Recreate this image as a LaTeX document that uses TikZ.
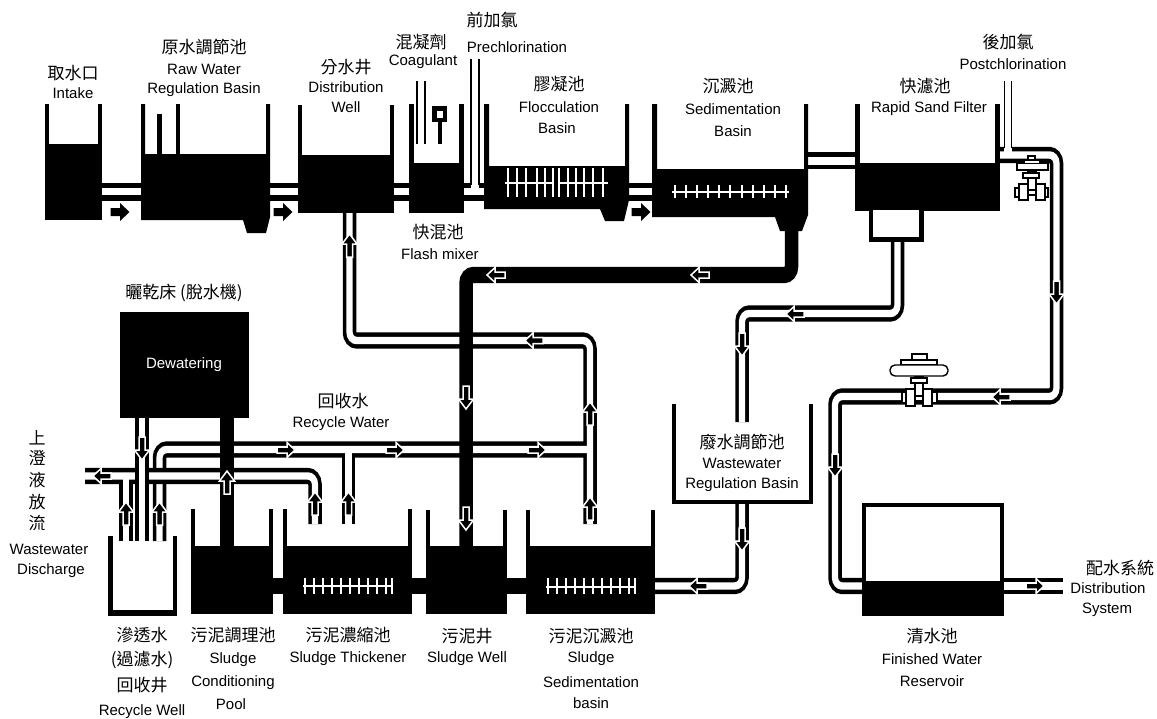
\documentclass[tikz,border=0pt]{standalone}
\usepackage{fontspec}
\setmainfont{Liberation Sans}
\newfontfamily\cjkf{Noto Sans CJK TC}
\newcounter{lbc}
\tikzset{
  en/.style={inner sep=0pt,font=\fontsize{15}{18}\selectfont},
  zh/.style={inner sep=0pt,font=\cjkf\fontsize{17}{20}\selectfont},
  valvepart/.style={fill=white,draw=black,line width=1.4pt},
  pipeblack/.style={draw=black,line width=13.5pt,rounded corners=7pt},
  pipewhite/.style={draw=white,line width=6.2pt,rounded corners=7pt},
  flowarrow/.style={fill=black,draw=white,line width=1.5pt,miter limit=3},
  bigarrow/.style={fill=black,draw=none},
  paddle/.style={draw=white,line width=1.6pt}
}
\newcommand{\enl}[3]{\stepcounter{lbc}\node[en] (t\arabic{lbc}) at (#1,#2) {#3};}
\newcommand{\zhl}[3]{\stepcounter{lbc}\node[zh] (t\arabic{lbc}) at (#1,#2) {#3};}
% tank: x1 x2 top water bottom wall
\newcommand{\tank}[6]{\fill[black] (#1,#3) rectangle (#2,#5);\fill[white] ({#1+#6},#3-1) rectangle ({#2-#6},#4);}
\newcommand{\hlink}[6]{\fill[black] (#1,#3) rectangle (#2,#6);\fill[white] (#1,#4) rectangle (#2,#5);}
% arrow along a horizontal run
\newcommand{\farrow}[3]{\begin{scope}[shift={(#1,#2)},rotate=#3]
  \path[flowarrow] (-9,-3) -- (1,-3) -- (1,-7.5) -- (9,0) -- (1,7.5) -- (1,3) -- (-9,3) -- cycle;
\end{scope}}
% arrow along a vertical run (the reference is stretched vertically)
\newcommand{\varrow}[3]{\begin{scope}[shift={(#1,#2)},rotate=#3]
  \path[flowarrow] (-12,-3) -- (1,-3) -- (1,-7.5) -- (11,0) -- (1,7.5) -- (1,3) -- (-12,3) -- cycle;
\end{scope}}
\newcommand{\barrow}[2]{\begin{scope}[shift={(#1,#2)}]
  \path[bigarrow] (-9.5,-4) -- (0,-4) -- (0,-9) -- (9.5,0) -- (0,9) -- (0,4) -- (-9.5,4) -- cycle;
\end{scope}}
\begin{document}
\begin{tikzpicture}[x=1pt,y=-1pt]
\useasboundingbox (0,0) rectangle (1157,718);
% ---- lower tanks, under the pipes that dip into them
\tank{191}{273}{509}{546}{614}{4}
\tank{283}{412}{509}{546}{614}{4}
\tank{426}{507}{510}{546}{614}{4}
\tank{526}{655}{510}{546}{614}{4}
\fill[black] (108,536) rectangle (177,616);
\fill[white] (112.5,535) rectangle (172.5,610);
\draw[paddle] (303,586) -- (393,586);
\foreach \p in {305,314,323,332,341,350,359,368,377,386,392}
  \draw[paddle] (\p,578) -- (\p,594);
\draw[paddle] (546,587) -- (636,587);
\foreach \p in {548,557,566,575,584,593,602,611,620,629,635}
  \draw[paddle] (\p,578) -- (\p,594);
% wastewater regulation basin
\fill[black] (672,404) rectangle (813,504);
\fill[white] (676,403) rectangle (809,500);
% ---- pipes with curved corners (canvas stretched vertically as in the reference)
\begin{scope}[transform canvas={yscale=1.2},x=1pt,y=-0.83333pt]
  % recycle network
  \path[pipeblack] (159.5,541) -- (159.5,449.5) -- (590,449.5);
  \path[pipeblack] (348.5,524) -- (348.5,449.5);
  \path[pipeblack] (590,524) -- (590,340.5) -- (349.5,340.5) -- (349.5,213);
  \path[pipewhite] (159.5,541) -- (159.5,449.5) -- (590,449.5);
  \path[pipewhite] (348.5,524) -- (348.5,449.5);
  \path[pipewhite] (590,524) -- (590,340.5) -- (349.5,340.5) -- (349.5,213);
  % discharge
  \path[pipeblack] (85,476) -- (315,476) -- (315,524);
  \path[pipeblack] (126,541) -- (126,476);
  \path[pipewhite] (85,476) -- (315,476) -- (315,524);
  \path[pipewhite] (126,541) -- (126,476);
  % filtrate back to well
  \path[pipeblack] (142,417) -- (142,541);
  \path[pipewhite] (142,417) -- (142,541);
  % sludge line
  \path[pipeblack] (791.5,225) -- (791.5,275) -- (466,275) -- (466,547);
  % filter backwash
  \path[pipeblack] (897.5,242) -- (897.5,313.5) -- (742,313.5) -- (742,422);
  \path[pipewhite] (897.5,242) -- (897.5,313.5) -- (742,313.5) -- (742,422);
  % wastewater basin to sludge sedimentation
  \path[pipeblack] (742,504) -- (742,586) -- (655,586);
  \path[pipewhite] (742,504) -- (742,586) -- (655,586);
  % clear water
  \path[pipeblack] (1000,155) -- (1056.5,155) -- (1056.5,396.5) -- (835,396.5) -- (835,586) -- (870,586);
  \path[pipewhite] (1000,155) -- (1056.5,155) -- (1056.5,396.5) -- (835,396.5) -- (835,586) -- (870,586);
\end{scope}
% conditioning feed
\fill[black] (220,417) rectangle (234,547);
% ---- straight links between tanks
\hlink{102}{141}{183}{188}{195}{201}
\hlink{270}{298}{183}{188}{195}{201}
\hlink{394}{409}{183}{188}{195}{201}
\hlink{464}{484}{183}{188}{195}{201}
\hlink{629}{652}{183}{188}{195}{201}
\hlink{808}{855}{152}{157}{165}{169}
\hlink{1004}{1063}{578}{582}{590}{594}
\fill[black] (273,578) rectangle (283,594);
\fill[black] (412,578) rectangle (426,594);
\fill[black] (507,578) rectangle (526,594);
% ---- upper tanks
\tank{45}{102}{104}{144}{220}{4}
\fill[black] (141,104) -- (145,104) -- (145,154) -- (266,154) -- (266,104) -- (270,104) -- (270,217) -- (266,233) -- (247,233) -- (243,220) -- (141,220) -- cycle;
\fill[black] (157,114) rectangle (162,155);
\fill[black] (176,104) rectangle (180,155);
\tank{298}{394}{105}{155}{213}{4}
\tank{409}{464}{104}{163}{213}{5}
\fill[black] (484,104) -- (489,104) -- (489,166) -- (625,166) -- (625,104) -- (629,104) -- (629,200) -- (624,221) -- (605,221) -- (600,209) -- (484,209) -- cycle;
\fill[black] (652,104) -- (657,104) -- (657,169) -- (804,169) -- (804,104) -- (808,104) -- (808,215) -- (802,231) -- (780,231) -- (775,217) -- (652,217) -- cycle;
\tank{855}{1000}{104}{163}{211}{5}
\fill[black] (869,211) rectangle (924,242);
\fill[white] (873,210) rectangle (919,237);
% ---- dosing pipes
\draw[black,line width=1.6pt] (417,81) -- (417,144);
\draw[black,line width=1.6pt] (425,81) -- (425,144);
\fill[black] (432,106) rectangle (447,122);
\fill[white] (436.5,111) rectangle (442.5,118);
\fill[black] (438,122) rectangle (442,144);
\fill[white] (471,59) rectangle (479,189);
\draw[black,line width=1.8pt] (471,59) -- (471,185);
\draw[black,line width=1.8pt] (479,59) -- (479,185);
\fill[white] (1004,81) rectangle (1012,153);
\draw[black,line width=1.6pt] (1004.5,81) -- (1004.5,148);
\draw[black,line width=1.6pt] (1011.5,81) -- (1011.5,148);
% ---- paddles
\draw[paddle] (505,183) -- (553,183);
\draw[paddle] (560,183) -- (608,183);
\foreach \p in {508,517,526,537,545,553,559,568,576,584,593,603}
  \draw[paddle] (\p,168) -- (\p,197);
\draw[paddle] (672,192) -- (789,192);
\foreach \p in {675,686,697,708,719,730,742,753,764,775,786}
  \draw[paddle] (\p,185) -- (\p,198);
% dewatering unit
\fill[black] (120,312) rectangle (249,418);
% finished water reservoir
\fill[black] (862,503) rectangle (1004,616);
\fill[white] (866,507) rectangle (1000,581);
% ---- valve on the filter outlet
\path[valvepart] (1028,156) rectangle (1035,160);
\path[valvepart] (1024,160) rectangle (1040,163.5);
\path[valvepart] (1017,163.5) rectangle (1048,170);
\fill[black] (1027,170) rectangle (1037,173);
\path[valvepart] (1023,173) rectangle (1039,178);
\path[valvepart] (1028,178) rectangle (1036,192);
\path[valvepart] (1015,188) rectangle (1019,197);
\path[valvepart] (1019,184) rectangle (1028,200);
\path[valvepart] (1036,184) rectangle (1045,200);
\path[valvepart] (1045,188) rectangle (1048,197);
\path[valvepart] (1028,190) rectangle (1036,195);
% ---- valve on the clear water main
\path[valvepart] (912,354) rectangle (927,360);
\path[valvepart] (901,360) rectangle (937,365);
\path[valvepart,rounded corners=5pt] (890,365) rectangle (948,376);
\fill[black] (914,376) rectangle (924,378);
\path[valvepart] (911,378) rectangle (927,383);
\path[valvepart] (915,383) rectangle (923,398);
\path[valvepart] (902,392) rectangle (906,403);
\path[valvepart] (906,389) rectangle (915,406);
\path[valvepart] (923,389) rectangle (932,406);
\path[valvepart] (932,392) rectangle (937,403);
\path[valvepart] (915,396) rectangle (923,401);
% ---- flow arrows
\barrow{120}{212}
\barrow{283}{212}
\barrow{641}{212}
\varrow{349.5}{245}{90}
\farrow{534}{340.5}{180}
\varrow{590}{413}{90}
\varrow{590}{508}{90}
\farrow{496}{275}{180}
\farrow{700}{275}{180}
\varrow{466}{398}{-90}
\varrow{466}{519}{-90}
\farrow{795}{314}{180}
\varrow{742}{345}{-90}
\varrow{742}{540}{-90}
\farrow{698}{586}{180}
\varrow{1056.5}{293}{-90}
\farrow{1001}{397}{180}
\varrow{835}{466}{-90}
\farrow{1035}{586}{0}
\varrow{142}{449}{-90}
\farrow{286}{450}{0}
\farrow{395}{450}{0}
\farrow{537}{450}{0}
\farrow{102}{476}{180}
\varrow{227}{482}{90}
\varrow{315}{503}{90}
\varrow{348.5}{503}{90}
\varrow{126}{513}{90}
\varrow{159.5}{513}{90}
% ---- labels
\node[en,text=white] (dw) at (184,365) {Dewatering};
\zhl{73}{73}{取水口}
\enl{73}{93}{Intake}
\zhl{204}{47}{原水調節池}
\enl{204}{69}{Raw Water}
\enl{204}{90}{Regulation Basin}
\zhl{346}{67}{分水井}
\enl{346}{87}{Distribution}
\enl{346}{107}{Well}
\zhl{421}{42}{混凝劑}
\enl{423}{62}{Coagulant}
\zhl{492}{20}{前加氯}
\enl{517}{47}{Prechlorination}
\zhl{559}{84}{膠凝池}
\enl{559}{107}{Flocculation}
\enl{557}{128}{Basin}
\zhl{728}{86}{沉澱池}
\enl{733}{109}{Sedimentation}
\enl{733}{131}{Basin}
\zhl{925}{86}{快濾池}
\enl{929}{109}{Rapid Sand Filter}
\zhl{1008}{42}{後加氯}
\enl{1013}{64}{Postchlorination}
\zhl{438}{232}{快混池}
\enl{440}{254}{Flash mixer}
\zhl{184}{293}{曬乾床 (脫水機)}
\zhl{343}{401}{回收水}
\enl{341}{424}{Recycle Water}
\zhl{37}{438}{上}
\zhl{37}{458}{澄}
\zhl{37}{480}{液}
\zhl{37}{502}{放}
\zhl{37}{523}{流}
\enl{49}{549}{Wastewater}
\enl{51}{571}{Discharge}
\zhl{142}{635}{滲透水}
\zhl{142}{660}{(過濾水)}
\zhl{142}{685}{回收井}
\enl{142}{712}{Recycle Well}
\zhl{233}{635}{污泥調理池}
\enl{233}{660}{Sludge}
\enl{233}{683}{Conditioning}
\enl{231}{704}{Pool}
\zhl{348}{635}{污泥濃縮池}
\enl{348}{659}{Sludge Thickener}
\zhl{467}{636}{污泥井}
\enl{467}{659}{Sludge Well}
\zhl{591}{636}{污泥沉澱池}
\enl{591}{659}{Sludge}
\enl{591}{682}{Sedimentation}
\enl{591}{703}{basin}
\zhl{742}{442}{廢水調節池}
\enl{742}{463}{Wastewater}
\enl{742}{485}{Regulation Basin}
\zhl{932}{636}{清水池}
\enl{932}{659}{Finished Water}
\enl{932}{681}{Reservoir}
\zhl{1120}{568}{配水系統}
\enl{1108}{588}{Distribution}
\enl{1107}{610}{System}
\end{tikzpicture}
\end{document}
